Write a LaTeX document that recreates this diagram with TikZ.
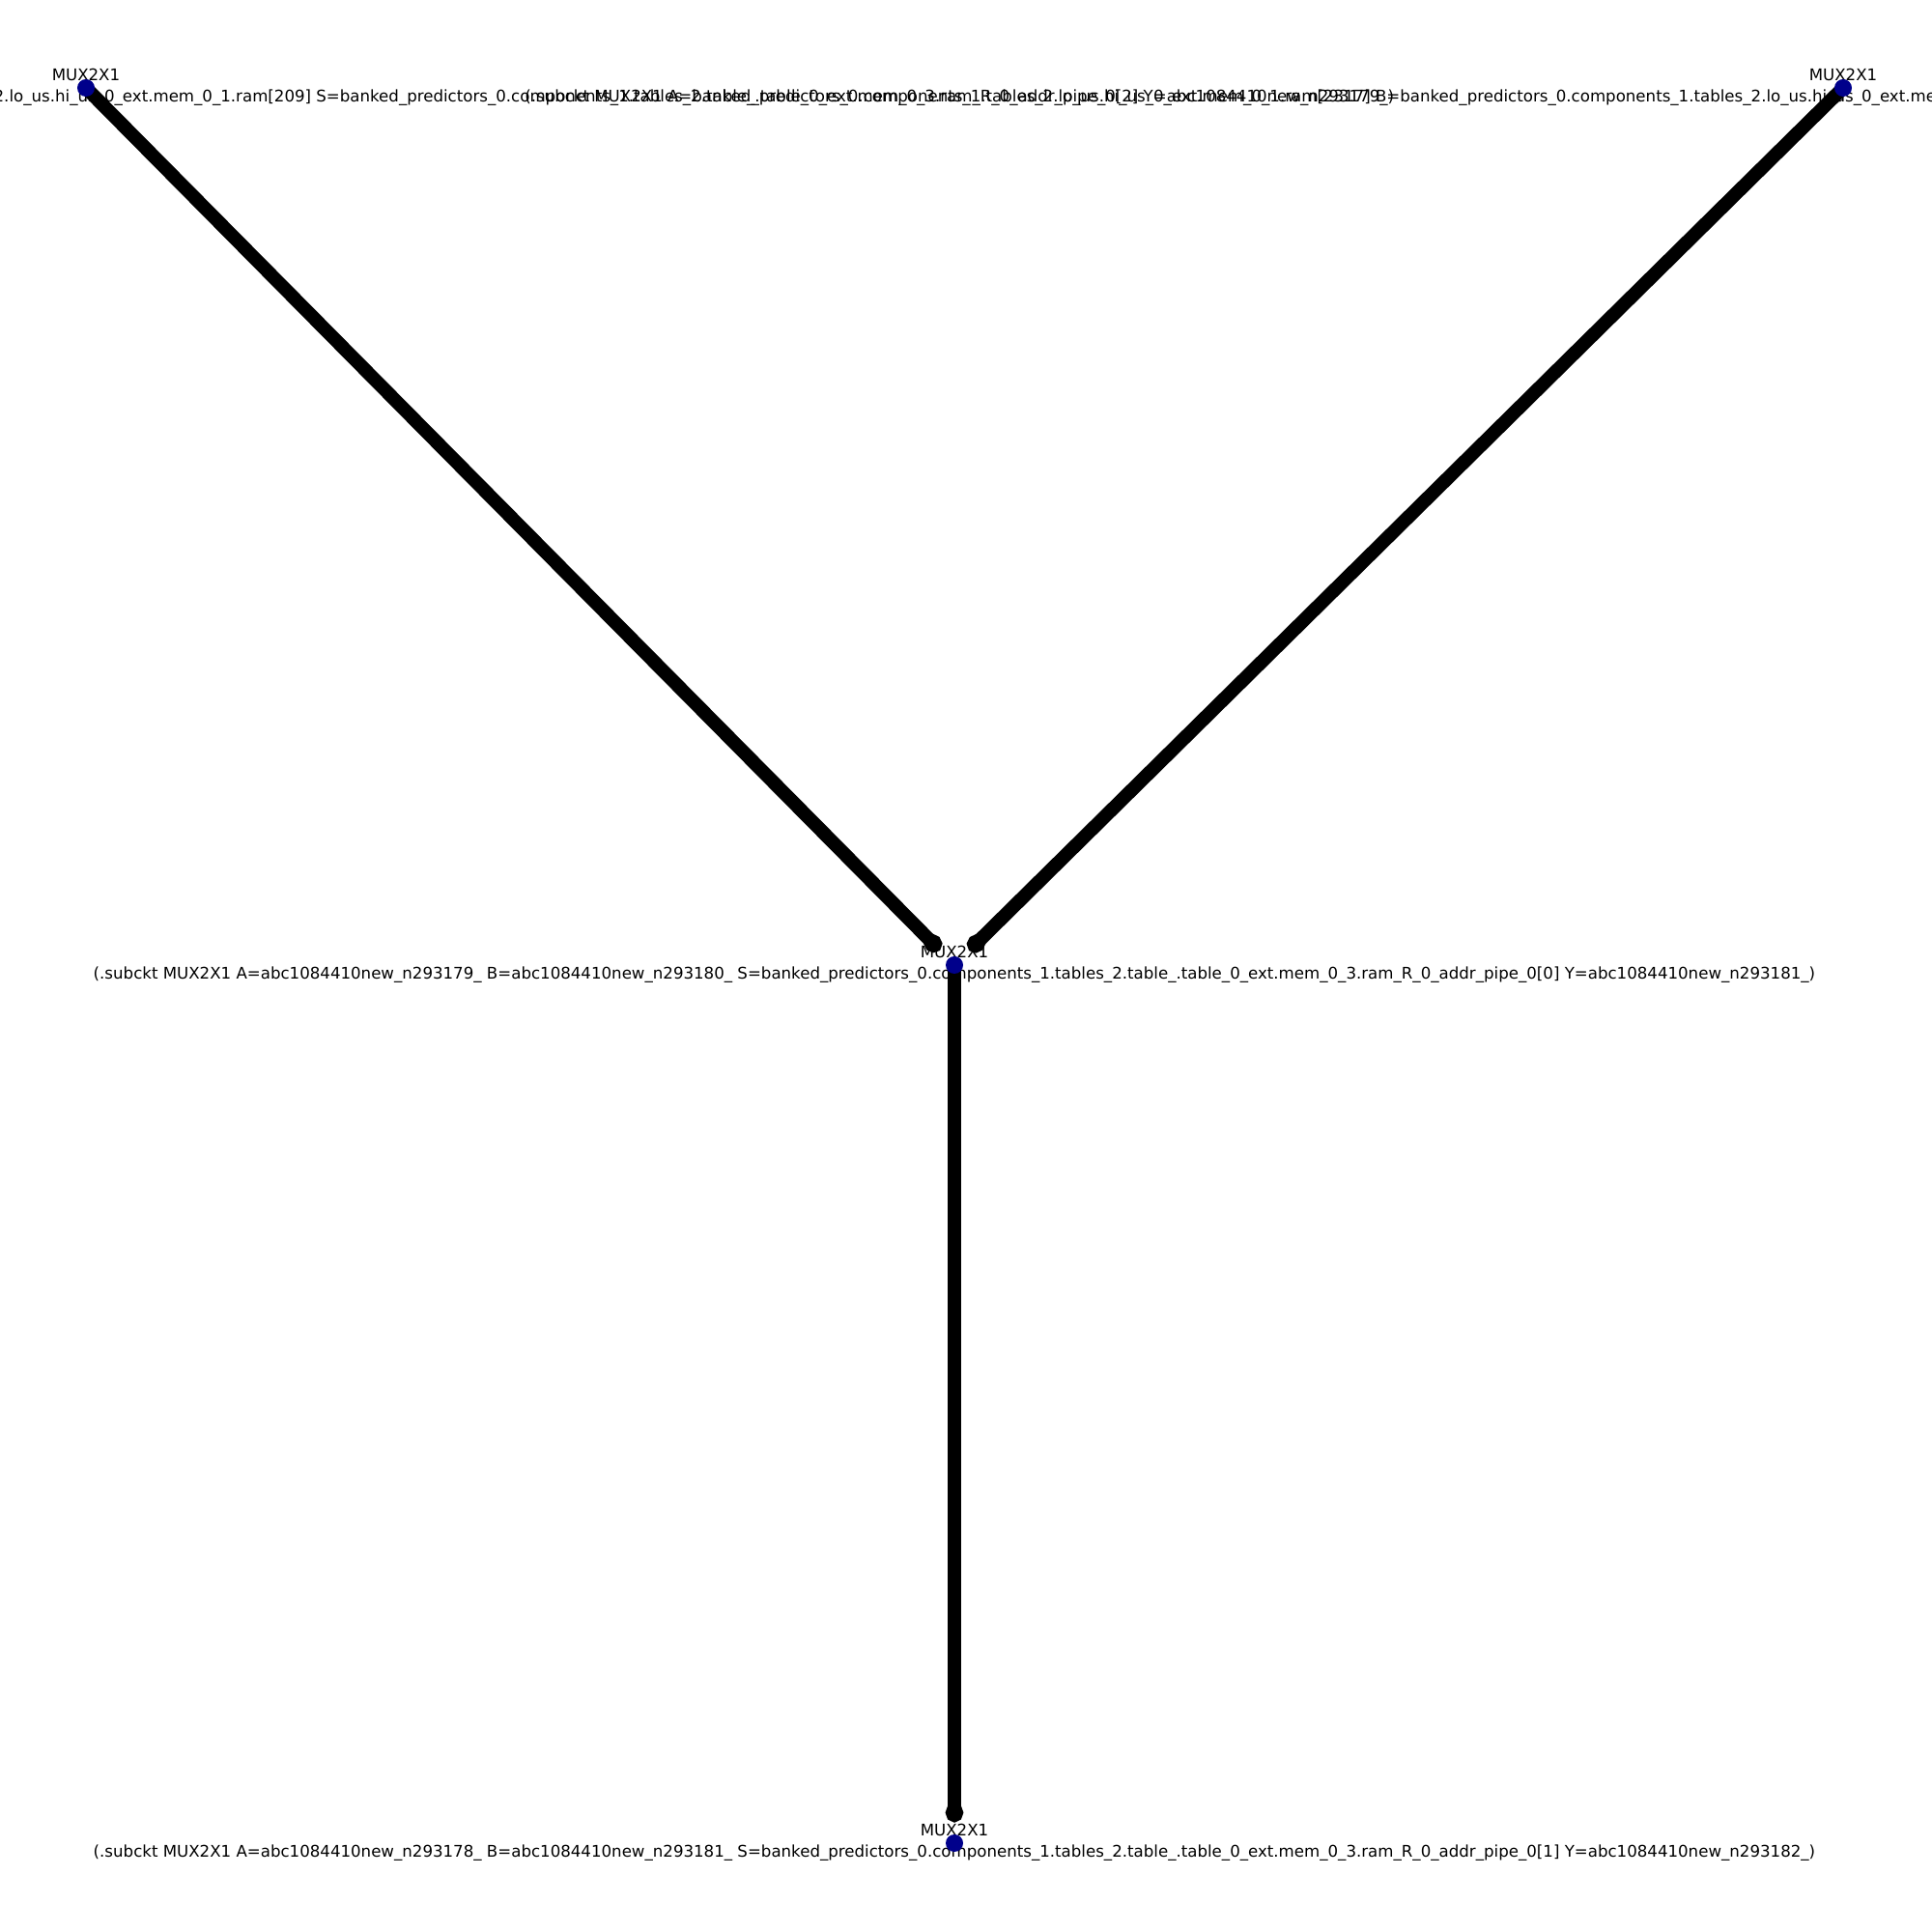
\documentclass[tikz,border=0pt]{standalone}
\usepackage{fontspec}
\setmainfont{DejaVu Sans}
\usetikzlibrary{arrows.meta}
\definecolor{muxblue}{RGB}{0,0,139}
\pgfdeclarelayer{back}
\pgfdeclarelayer{wires}
\pgfsetlayers{back,wires,main}

\begin{document}
\begin{tikzpicture}[
  >={Circle[length=5.6pt,width=5.2pt]},
  gate/.style={circle,fill=muxblue,inner sep=0pt,minimum size=0.18cm},
  wire/.style={line width=0.14cm,line cap=round,->,shorten >=0.12cm},
  tag/.style={align=center,font=\fontsize{4.73}{6.3}\selectfont,inner sep=0pt}
]

\useasboundingbox (0,0) rectangle (20,20);

\node[gate] (mux1) at (0.89,19.09) {};
\node[gate] (mux2) at (19.08,19.09) {};
\node[gate] (mux3) at (9.88,10.01) {};
\node[gate] (mux4) at (9.88,0.92) {};

\begin{pgfonlayer}{wires}
\draw[wire] (mux1.center) -- (mux3);
\draw[wire] (mux2.center) -- (mux3);
\draw[wire] (mux3.center) -- (mux4);
\end{pgfonlayer}

\begin{pgfonlayer}{back}
\node[tag] (tag1) at ([yshift=0.01cm]mux1.center) {MUX2X1\\(.subckt MUX2X1 A=banked\_predictors\_0.components\_1.tables\_2.lo\_us.hi\_us\_0\_ext.mem\_0\_1.ram[208] B=banked\_predictors\_0.components\_1.tables\_2.lo\_us.hi\_us\_0\_ext.mem\_0\_1.ram[209] S=banked\_predictors\_0.components\_1.tables\_2.table\_.table\_0\_ext.mem\_0\_3.ram\_R\_0\_addr\_pipe\_0[2] Y=abc1084410new\_n293179\_)};
\node[tag] (tag2) at ([yshift=0.01cm]mux2.center) {MUX2X1\\(.subckt MUX2X1 A=banked\_predictors\_0.components\_1.tables\_2.lo\_us.hi\_us\_0\_ext.mem\_0\_1.ram[2317] B=banked\_predictors\_0.components\_1.tables\_2.lo\_us.hi\_us\_0\_ext.mem\_0\_1.ram[2318] S=banked\_predictors\_0.components\_1.tables\_2.table\_.table\_0\_ext.mem\_0\_3.ram\_R\_0\_addr\_pipe\_0[2] Y=abc1084410new\_n293180\_)};
\node[tag] (tag3) at ([yshift=0.01cm]mux3.center) {MUX2X1\\(.subckt MUX2X1 A=abc1084410new\_n293179\_ B=abc1084410new\_n293180\_ S=banked\_predictors\_0.components\_1.tables\_2.table\_.table\_0\_ext.mem\_0\_3.ram\_R\_0\_addr\_pipe\_0[0] Y=abc1084410new\_n293181\_)};
\node[tag] (tag4) at ([yshift=0.01cm]mux4.center) {MUX2X1\\(.subckt MUX2X1 A=abc1084410new\_n293178\_ B=abc1084410new\_n293181\_ S=banked\_predictors\_0.components\_1.tables\_2.table\_.table\_0\_ext.mem\_0\_3.ram\_R\_0\_addr\_pipe\_0[1] Y=abc1084410new\_n293182\_)};
\end{pgfonlayer}

\end{tikzpicture}
\end{document}
